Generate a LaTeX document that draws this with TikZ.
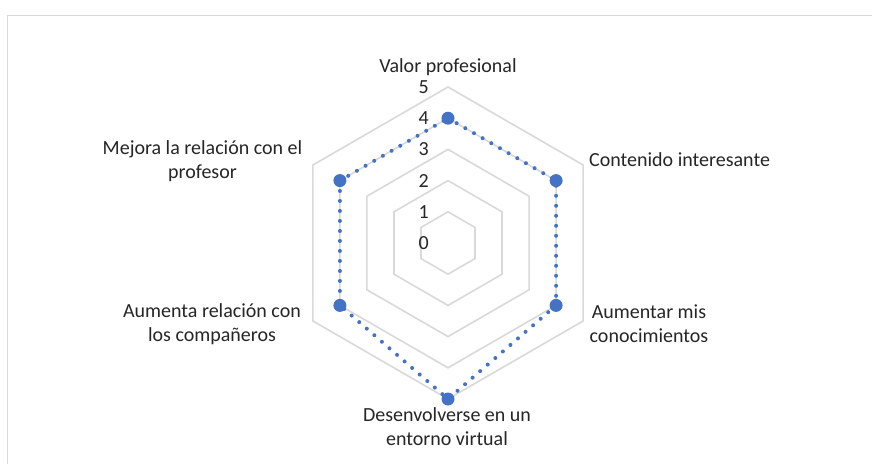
\documentclass[tikz,border=0pt]{standalone}
\usepackage{fontspec}
\setmainfont{Carlito}
\definecolor{gridgray}{HTML}{D9D9D9}
\definecolor{serieblue}{HTML}{4472C4}
\definecolor{textgray}{HTML}{262626}
\tikzset{
  frameline/.style={draw=gridgray, line width=1.5pt},
  gridline/.style={draw=gridgray, line width=1.6pt, line join=miter},
  dataline/.style={draw=serieblue, line width=4pt, line cap=round, dash pattern=on 0pt off 10pt},
  marker/.style={circle, fill=serieblue, inner sep=0pt, minimum size=13pt},
  catlabel/.style={inner sep=0pt, text=textgray, align=center},
  numlabel/.style={inner sep=0pt, text=textgray, anchor=east}
}
\begin{document}
\begin{tikzpicture}[x=1pt, y=-1pt, font=\fontsize{20}{24}\selectfont]
\useasboundingbox (0,0) rectangle (872,463);
\clip (0,0) rectangle (872,463);
\fill[white] (0,0) rectangle (872,463);
\draw[frameline] (7.5,15.5) rectangle (890,480);
\coordinate (C) at (448,243);
\def\k{31.2}
\def\c{0.8660254}
% grid hexagons
\foreach \l in {1,...,5}{
  \draw[gridline, shift={(C)}] (0,-\l*\k) -- (\c*\l*\k,-0.5*\l*\k) -- (\c*\l*\k,0.5*\l*\k) -- (0,\l*\k) -- (-\c*\l*\k,0.5*\l*\k) -- (-\c*\l*\k,-0.5*\l*\k) -- cycle;
}
% axis numbers
\foreach \l in {0,...,5}{
  \node[numlabel] (n\l) at (429, 243-\l*\k) {\l};
}
% data: 4, 4, 4, 5, 4, 4
\begin{scope}[shift={(C)}]
  \coordinate (d1) at (0,-4*\k);
  \coordinate (d2) at (\c*4*\k,-2*\k);
  \coordinate (d3) at (\c*4*\k,2*\k);
  \coordinate (d4) at (0,5*\k);
  \coordinate (d5) at (-\c*4*\k,2*\k);
  \coordinate (d6) at (-\c*4*\k,-2*\k);
\end{scope}
\draw[dataline] (d1) -- (d2) -- (d3) -- (d4) -- (d5) -- (d6) -- cycle;
\foreach \i in {1,...,6}{
  \node[marker] (m\i) at (d\i) {};
}
% category labels
\node[catlabel] (c1) at (448,67) {Valor profesional};
\node[catlabel, anchor=west] (c2) at (589,160) {Contenido interesante};
\node[catlabel] (c3) at (649,324) {Aumentar mis\\conocimientos};
\node[catlabel] (c4) at (447,427) {Desenvolverse en un\\entorno virtual};
\node[catlabel] (c5) at (212,324) {Aumenta relación con\\los compañeros};
\node[catlabel] (c6) at (202.5,161) {Mejora la relación con el\\profesor};
\end{tikzpicture}
\end{document}
